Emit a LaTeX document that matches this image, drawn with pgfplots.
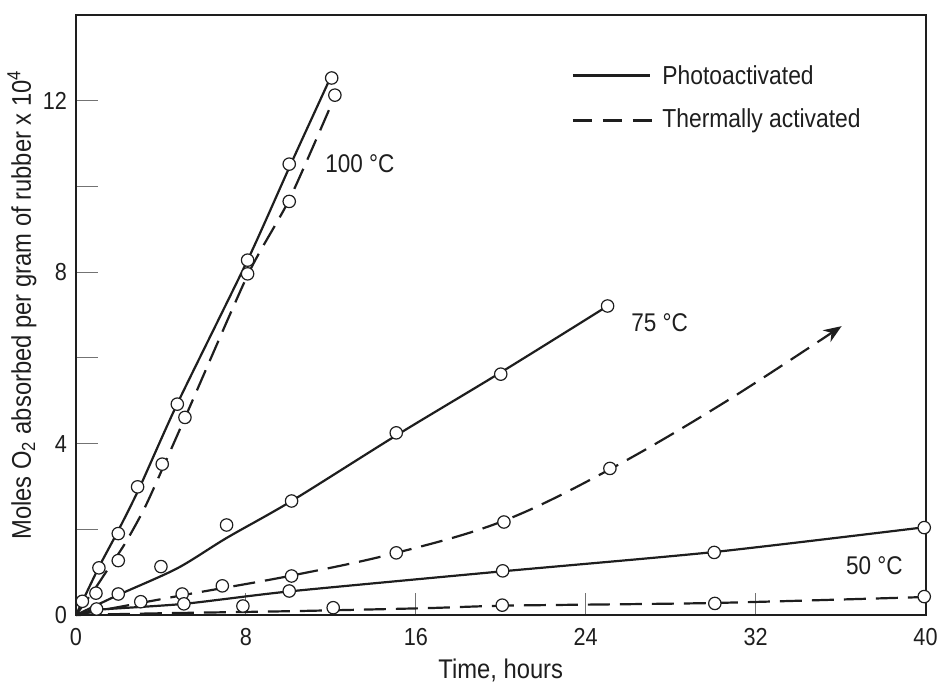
\documentclass[border=0pt]{standalone}
\usepackage{fontspec}
\setmainfont{Liberation Sans}[FakeStretch=0.88]
\usepackage{pgfplots}
\pgfplotsset{compat=1.18}
\usetikzlibrary{arrows.meta}
\definecolor{ink}{HTML}{1E1E1E}
\begin{document}
\begin{tikzpicture}
\begin{axis}[
  at={(0,0)}, anchor=south west,
  scale only axis, width=424.75pt, height=300pt,
  xmin=0, xmax=40, ymin=0, ymax=14,
  clip=false,
  xtick={0,8,...,40},
  ytick={0,2,...,12}, yticklabels={0,,4,,8,,12},
  xtick pos=bottom, ytick pos=left,
  tick align=inside, major tick length=11pt,
  tick style={draw=black!55, line width=0.5pt},
  axis line style={line width=1pt, draw=ink},
  /pgf/number format/assume math mode=true,
  tick label style={font=\fontsize{12.3}{14}\selectfont, text=ink},
  xticklabel style={yshift=-3pt},
  yticklabel style={xshift=-1pt},
  xlabel={Time, hours},
  ylabel={Moles O\textsubscript{2} absorbed per gram of rubber x 10\textsuperscript{4}},
  every axis x label/.style={at={(axis description cs:0.5,-0.0917)}, anchor=center, font=\fontsize{13.5}{15}\selectfont, text=ink},
  every axis y label/.style={at={(axis description cs:-0.0636,0.517)}, anchor=center, rotate=90, font=\fontsize{13.5}{15}\selectfont, text=ink},
  every axis plot/.append style={line width=1.1pt, draw=ink},
  thermal/.style={dash pattern=on 11pt off 5pt},
]
% ---- curves: photoactivated (solid) ----
\addplot[smooth, tension=0.4] coordinates {(0,0) (1.05,1.09) (2,1.98) (3,2.98) (4.77,4.93) (8.1,8.3) (10.05,10.45) (11.9,12.45)};
\addplot[smooth, tension=0.5] coordinates {(0,0) (2,0.47) (4.77,1.09) (7.1,1.8) (10.15,2.66) (15.08,4.19) (20,5.66) (25,7.2)};
\addplot[smooth, tension=0.4] coordinates {(0,0) (1,0.12) (5.08,0.26) (10.04,0.55) (20.09,1.02) (30.05,1.47) (40,2.05)};
% ---- curves: thermally activated (dashed) ----
\addplot[thermal, smooth, tension=0.4] coordinates {(0,0) (0.9,0.62) (1.37,0.97) (2.31,1.67) (3.33,2.6) (5.13,4.6) (8.1,7.95) (10.05,9.7) (12.1,12.0)};
\addplot[thermal, smooth, tension=0.6, -{Stealth[length=9pt,width=7pt]}] coordinates {(0,0) (5,0.46) (10.15,0.92) (15.08,1.45) (20.15,2.2) (25.14,3.4) (30.5,4.95) (36.05,6.74)};
\addplot[thermal, smooth, tension=0.4] coordinates {(0,0) (4,0.04) (10.2,0.09) (16.5,0.16) (20.4,0.22) (30,0.28) (40,0.42)};
% ---- observed points ----
\addplot[only marks, mark=*, mark size=3.1pt, mark options={fill=white, draw=ink, line width=0.6pt, solid}] coordinates {
 (0.3,0.32) (1.08,1.10) (1.99,1.90) (2.9,2.99) (4.77,4.92) (8.08,8.28) (10.04,10.52) (12.04,12.53)
 (0.94,0.51) (1.99,1.27) (4.06,3.52) (5.13,4.61) (8.08,7.96) (10.04,9.65) (12.19,12.13)
 (1.99,0.49) (4.0,1.13) (7.09,2.10) (10.15,2.66) (15.08,4.25) (20.0,5.62) (25.03,7.21)
 (3.05,0.31) (5.0,0.49) (6.89,0.68) (10.15,0.91) (15.08,1.45) (20.15,2.17) (25.14,3.42)
 (0.97,0.14) (5.08,0.26) (10.04,0.56) (20.09,1.03) (30.05,1.46) (39.94,2.04)
 (7.86,0.21) (12.11,0.17) (20.07,0.23) (30.08,0.27) (39.94,0.43)
};
% ---- labels ----
\node[anchor=west, inner sep=0pt, font=\fontsize{12.8}{15}\selectfont, text=ink] at (axis cs:11.72,10.54) {100 °C};
\node[anchor=west, inner sep=0pt, font=\fontsize{12.8}{15}\selectfont, text=ink] at (axis cs:26.13,6.81) {75 °C};
\node[anchor=west, inner sep=0pt, font=\fontsize{12.8}{15}\selectfont, text=ink] at (axis cs:36.24,1.15) {50 °C};
% ---- legend ----
\draw[line width=1.1pt, draw=ink] (axis cs:23.4,12.59) -- (axis cs:27.02,12.59);
\draw[line width=1.1pt, draw=ink, dash pattern=on 9.5pt off 5.5pt] (axis cs:23.4,11.54) -- (axis cs:27.1,11.54);
\node[anchor=west, font=\fontsize{13}{15}\selectfont, text=ink, inner sep=0pt] at (axis cs:27.59,12.59) {Photoactivated};
\node[anchor=west, font=\fontsize{13}{15}\selectfont, text=ink, inner sep=0pt] at (axis cs:27.59,11.54) {Thermally activated};
\end{axis}
\pgfresetboundingbox
\path (-38pt,-37.5pt) rectangle (432.5pt,307.5pt);
\end{tikzpicture}
\end{document}
